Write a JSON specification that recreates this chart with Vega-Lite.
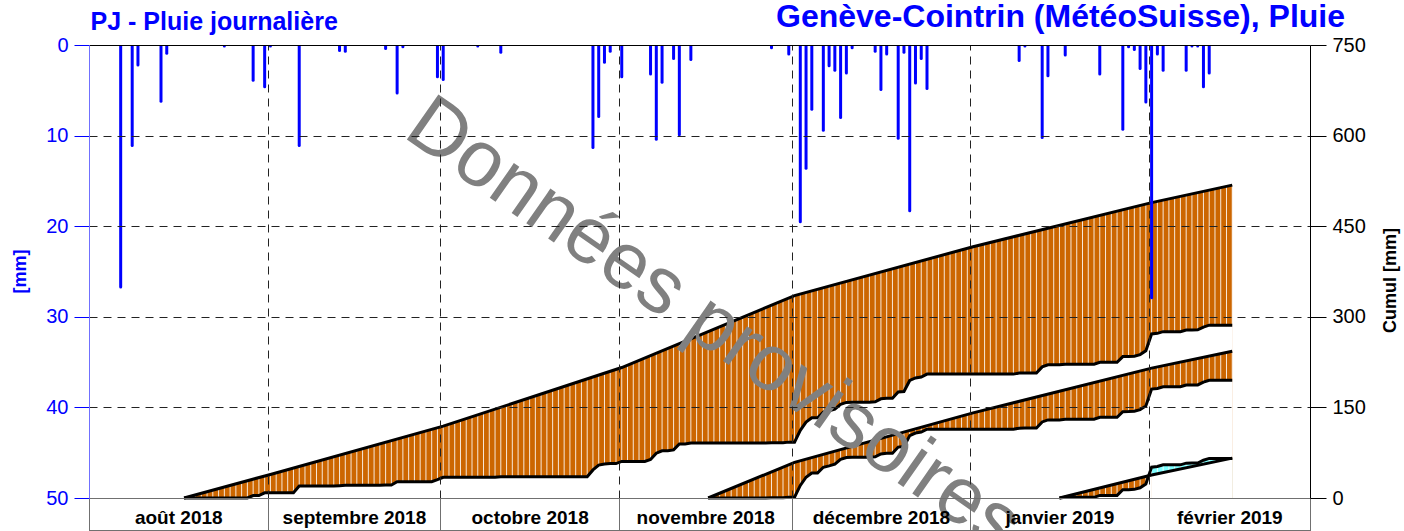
{
"$schema":"https://vega.github.io/schema/vega-lite/v6.json",
"width":1221,"height":453,
"autosize":"none",
"padding":{"left":89,"top":45,"right":94,"bottom":33},
"background":"white",
"config":{"view":{"stroke":null},"font":"Liberation Sans"},
"title":{"text":"Genève-Cointrin (MétéoSuisse), Pluie","anchor":"end","frame":"group","color":"#0000ff","fontSize":32,"fontWeight":"bold","font":"Liberation Sans","dx":35,"offset":-25},
"datasets":{
"daily":[
{"d":"2018-08-01"},{"d":"2018-08-02"},{"d":"2018-08-03"},{"d":"2018-08-04"},{"d":"2018-08-05"},
{"d":"2018-08-06","r":26.7},{"d":"2018-08-07"},{"d":"2018-08-08","r":11.1},{"d":"2018-08-09","r":2.2},
{"d":"2018-08-10"},{"d":"2018-08-11"},{"d":"2018-08-12"},{"d":"2018-08-13","r":6.2},{"d":"2018-08-14","r":0.9},
{"d":"2018-08-15"},{"d":"2018-08-16"},
{"d":"2018-08-17","a":0},{"d":"2018-08-18","a":0},{"d":"2018-08-19","a":0},{"d":"2018-08-20","a":0},{"d":"2018-08-21","a":0},{"d":"2018-08-22","a":0},{"d":"2018-08-23","a":0},
{"d":"2018-08-24","r":0.1,"a":0.1},{"d":"2018-08-25","a":0.1},{"d":"2018-08-26","a":0.1},{"d":"2018-08-27","a":0.1},{"d":"2018-08-28","a":0.1},
{"d":"2018-08-29","r":3.9,"a":4.0},{"d":"2018-08-30","a":4.0},{"d":"2018-08-31","r":4.6,"a":8.6},
{"d":"2018-09-01","r":0.1,"a":8.7},{"d":"2018-09-02","a":8.7},{"d":"2018-09-03","a":8.7},{"d":"2018-09-04","a":8.7},{"d":"2018-09-05","a":8.7},
{"d":"2018-09-06","r":11.1,"a":19.8},{"d":"2018-09-07","a":19.8},{"d":"2018-09-08","a":19.8},{"d":"2018-09-09","a":19.8},{"d":"2018-09-10","a":19.8},{"d":"2018-09-11","a":19.8},{"d":"2018-09-12","a":19.8},
{"d":"2018-09-13","r":0.6,"a":20.4},{"d":"2018-09-14","r":0.7,"a":21.1},{"d":"2018-09-15","a":21.1},{"d":"2018-09-16","a":21.1},{"d":"2018-09-17","a":21.1},{"d":"2018-09-18","a":21.1},{"d":"2018-09-19","a":21.1},{"d":"2018-09-20","a":21.1},
{"d":"2018-09-21","r":0.4,"a":21.5},{"d":"2018-09-22","a":21.5},{"d":"2018-09-23","r":5.3,"a":26.8},{"d":"2018-09-24","r":0.2,"a":27.0},
{"d":"2018-09-25","a":27.0},{"d":"2018-09-26","a":27.0},{"d":"2018-09-27","a":27.0},{"d":"2018-09-28","a":27.0},{"d":"2018-09-29","a":27.0},{"d":"2018-09-30","r":3.5,"a":30.5},
{"d":"2018-10-01","r":3.8,"a":34.3},{"d":"2018-10-02","a":34.3},{"d":"2018-10-03","a":34.3},{"d":"2018-10-04","a":34.3},{"d":"2018-10-05","a":34.3},{"d":"2018-10-06","a":34.3},
{"d":"2018-10-07","r":0.1,"a":34.4},{"d":"2018-10-08","a":34.4},{"d":"2018-10-09","a":34.4},{"d":"2018-10-10","a":34.4},{"d":"2018-10-11","r":0.8,"a":35.2},
{"d":"2018-10-12","a":35.2},{"d":"2018-10-13","a":35.2},{"d":"2018-10-14","a":35.2},{"d":"2018-10-15","a":35.2},{"d":"2018-10-16","a":35.2},{"d":"2018-10-17","a":35.2},{"d":"2018-10-18","a":35.2},
{"d":"2018-10-19","a":35.2},{"d":"2018-10-20","a":35.2},{"d":"2018-10-21","a":35.2},{"d":"2018-10-22","a":35.2},{"d":"2018-10-23","a":35.2},{"d":"2018-10-24","a":35.2},{"d":"2018-10-25","a":35.2},{"d":"2018-10-26","a":35.2},
{"d":"2018-10-27","r":11.3,"a":46.5},{"d":"2018-10-28","r":7.9,"a":54.4},{"d":"2018-10-29","r":1.9,"a":56.3},{"d":"2018-10-30","r":0.7,"a":57.0},{"d":"2018-10-31","a":57.0},
{"d":"2018-11-01","r":3.5,"a":60.5},{"d":"2018-11-02","a":60.5},{"d":"2018-11-03","a":60.5},{"d":"2018-11-04","a":60.5},{"d":"2018-11-05","a":60.5},
{"d":"2018-11-06","r":3.2,"a":63.7},{"d":"2018-11-07","r":10.4,"a":74.1},{"d":"2018-11-08","r":4.1,"a":78.2},{"d":"2018-11-09","a":78.2},{"d":"2018-11-10","r":1.5,"a":79.7},
{"d":"2018-11-11","r":9.9,"a":89.6},{"d":"2018-11-12","a":89.6},{"d":"2018-11-13","r":1.6,"a":91.2},{"d":"2018-11-14","a":91.2},{"d":"2018-11-15","a":91.2},
{"d":"2018-11-16","a":91.2,"b":0},{"d":"2018-11-17","a":91.2,"b":0},{"d":"2018-11-18","a":91.2,"b":0},{"d":"2018-11-19","a":91.2,"b":0},{"d":"2018-11-20","a":91.2,"b":0},
{"d":"2018-11-21","a":91.2,"b":0},{"d":"2018-11-22","a":91.2,"b":0},{"d":"2018-11-23","a":91.2,"b":0},{"d":"2018-11-24","a":91.2,"b":0},{"d":"2018-11-25","a":91.2,"b":0},{"d":"2018-11-26","a":91.2,"b":0},
{"d":"2018-11-27","r":0.3,"a":91.5,"b":0.3},{"d":"2018-11-28","a":91.5,"b":0.3},{"d":"2018-11-29","a":91.5,"b":0.3},{"d":"2018-11-30","r":1.0,"a":92.5,"b":1.3},
{"d":"2018-12-01","a":92.5,"b":1.3},{"d":"2018-12-02","r":19.5,"a":112.0,"b":20.8},{"d":"2018-12-03","r":13.6,"a":125.6,"b":34.4},{"d":"2018-12-04","r":7.1,"a":132.7,"b":41.5},
{"d":"2018-12-05","a":132.7,"b":41.5},{"d":"2018-12-06","r":9.4,"a":142.1,"b":50.9},{"d":"2018-12-07","r":2.3,"a":144.4,"b":53.2},{"d":"2018-12-08","r":2.8,"a":147.2,"b":56.0},
{"d":"2018-12-09","r":8.0,"a":155.2,"b":64.0},{"d":"2018-12-10","r":3.1,"a":158.3,"b":67.1},{"d":"2018-12-11","r":0.3,"a":158.6,"b":67.4},
{"d":"2018-12-12","a":158.6,"b":67.4},{"d":"2018-12-13","a":158.6,"b":67.4},{"d":"2018-12-14","a":158.6,"b":67.4},
{"d":"2018-12-15","r":0.7,"a":159.3,"b":68.1},{"d":"2018-12-16","r":4.9,"a":164.2,"b":73.0},{"d":"2018-12-17","r":1.0,"a":165.2,"b":74.0},{"d":"2018-12-18","a":165.2,"b":74.0},
{"d":"2018-12-19","r":10.3,"a":175.5,"b":84.3},{"d":"2018-12-20","r":0.8,"a":176.3,"b":85.1},{"d":"2018-12-21","r":18.3,"a":194.6,"b":103.4},{"d":"2018-12-22","r":4.2,"a":198.8,"b":107.6},
{"d":"2018-12-23","r":1.5,"a":200.3,"b":109.1},{"d":"2018-12-24","r":4.8,"a":205.1,"b":113.9},
{"d":"2018-12-25","a":205.1,"b":113.9},{"d":"2018-12-26","a":205.1,"b":113.9},{"d":"2018-12-27","a":205.1,"b":113.9},{"d":"2018-12-28","a":205.1,"b":113.9},{"d":"2018-12-29","a":205.1,"b":113.9},{"d":"2018-12-30","a":205.1,"b":113.9},{"d":"2018-12-31","a":205.1,"b":113.9},
{"d":"2019-01-01","a":205.1,"b":113.9},{"d":"2019-01-02","a":205.1,"b":113.9},{"d":"2019-01-03","a":205.1,"b":113.9},{"d":"2019-01-04","a":205.1,"b":113.9},{"d":"2019-01-05","a":205.1,"b":113.9},{"d":"2019-01-06","a":205.1,"b":113.9},{"d":"2019-01-07","a":205.1,"b":113.9},{"d":"2019-01-08","a":205.1,"b":113.9},
{"d":"2019-01-09","r":1.7,"a":206.8,"b":115.6},{"d":"2019-01-10","r":0.1,"a":206.9,"b":115.7},{"d":"2019-01-11","a":206.9,"b":115.7},{"d":"2019-01-12","a":206.9,"b":115.7},
{"d":"2019-01-13","r":10.2,"a":217.1,"b":125.9},{"d":"2019-01-14","r":3.4,"a":220.5,"b":129.3},{"d":"2019-01-15","a":220.5,"b":129.3},
{"d":"2019-01-16","a":220.5,"b":129.3,"c":0},{"d":"2019-01-17","r":1.1,"a":221.6,"b":130.4,"c":1.1},
{"d":"2019-01-18","a":221.6,"b":130.4,"c":1.1},{"d":"2019-01-19","a":221.6,"b":130.4,"c":1.1},{"d":"2019-01-20","a":221.6,"b":130.4,"c":1.1},{"d":"2019-01-21","a":221.6,"b":130.4,"c":1.1},{"d":"2019-01-22","a":221.6,"b":130.4,"c":1.1},
{"d":"2019-01-23","r":3.2,"a":224.8,"b":133.6,"c":4.3},{"d":"2019-01-24","a":224.8,"b":133.6,"c":4.3},{"d":"2019-01-25","a":224.8,"b":133.6,"c":4.3},{"d":"2019-01-26","a":224.8,"b":133.6,"c":4.3},
{"d":"2019-01-27","r":9.3,"a":234.1,"b":142.9,"c":13.6},{"d":"2019-01-28","r":0.2,"a":234.3,"b":143.1,"c":13.8},{"d":"2019-01-29","r":0.5,"a":234.8,"b":143.6,"c":14.3},
{"d":"2019-01-30","r":2.6,"a":237.4,"b":146.2,"c":16.9},{"d":"2019-01-31","r":6.3,"a":243.7,"b":152.5,"c":23.2},
{"d":"2019-02-01","r":27.9,"a":271.6,"b":180.4,"c":51.1},{"d":"2019-02-02","r":1.0,"a":272.6,"b":181.4,"c":52.1},{"d":"2019-02-03","r":2.8,"a":275.4,"b":184.2,"c":54.9},
{"d":"2019-02-04","a":275.4,"b":184.2,"c":54.9},{"d":"2019-02-05","a":275.4,"b":184.2,"c":54.9},{"d":"2019-02-06","a":275.4,"b":184.2,"c":54.9},
{"d":"2019-02-07","r":2.8,"a":278.2,"b":187.0,"c":57.7},{"d":"2019-02-08","r":0.1,"a":278.3,"b":187.1,"c":57.8},{"d":"2019-02-09","r":0.1,"a":278.4,"b":187.2,"c":57.9},
{"d":"2019-02-10","r":4.6,"a":283.0,"b":191.8,"c":62.5},{"d":"2019-02-11","r":3.1,"a":286.1,"b":194.9,"c":65.6},
{"d":"2019-02-12","a":286.1,"b":194.9,"c":65.6},{"d":"2019-02-13","a":286.1,"b":194.9,"c":65.6},{"d":"2019-02-14","a":286.1,"b":194.9,"c":65.6},{"d":"2019-02-15","a":286.1,"b":194.9,"c":65.6}
],
"norm":[
{"d":"2018-08-17","n1":0},{"d":"2018-09-01","n1":39},{"d":"2018-10-01","n1":119},{"d":"2018-11-01","n1":216},
{"d":"2018-11-16","n2":0},{"d":"2018-12-01","n1":335,"n2":59},{"d":"2019-01-01","n1":416,"n2":141},
{"d":"2019-01-16","n3":0},{"d":"2019-02-01","n1":489,"n2":215,"n3":38},{"d":"2019-02-15","n1":518,"n2":243,"n3":66}
]
},
"layer":[
{"layer":[
{"data":{"name":"norm"},"transform":[{"filter":{"field":"n1","valid":true}}],
 "mark":{"type":"area","color":"#cc6600","xOffset":2.88},
 "encoding":{
  "x":{"field":"d","type":"temporal","scale":{"type":"utc","domain":[{"year":2018,"month":8,"date":1,"utc":true},{"year":2019,"month":3,"date":1,"utc":true}]},
   "axis":{"orient":"bottom","zindex":1,"title":null,"values":[{"year":2018,"month":8,"date":16,"hours":12,"utc":true},{"year":2018,"month":9,"date":16,"utc":true},{"year":2018,"month":10,"date":16,"hours":12,"utc":true},{"year":2018,"month":11,"date":16,"utc":true},{"year":2018,"month":12,"date":16,"hours":12,"utc":true},{"year":2019,"month":1,"date":16,"hours":12,"utc":true},{"year":2019,"month":2,"date":15,"utc":true}],
    "labelExpr":"['janvier','février','mars','avril','mai','juin','juillet','août','septembre','octobre','novembre','décembre'][utcmonth(datum.value)] + ' ' + utcyear(datum.value)",
    "ticks":false,"tickSize":0,"grid":false,"offset":32,"domainColor":"#707070","domainWidth":1,"labelPadding":-13,"labelBaseline":"middle","labelFont":"Liberation Sans","labelFontSize":19,"labelFontWeight":"bold","labelColor":"#000000","labelFlush":false,"labelOverlap":false}},
  "y":{"field":"n1","type":"quantitative","stack":null,"scale":{"domain":[0,750],"nice":false},
   "axis":{"orient":"right","zindex":1,"values":[0,150,300,450,600,750],"grid":false,"domainColor":"#000000","tickColor":"#000000","tickSize":16,"labelPadding":6,"labelFont":"Liberation Sans","labelFontSize":20,"labelColor":"#000000","title":"Cumul [mm]","titleFont":"Liberation Sans","titleFontSize":18,"titleFontWeight":"bold","titleColor":"#000000","titleAngle":270,"titleX":80,"titleY":235,"titleBaseline":"middle","titleAlign":"center"}}}},
{"data":{"name":"daily"},"transform":[{"filter":{"field":"a","valid":true}}],
 "mark":{"type":"area","color":"#ffffff","xOffset":2.88},
 "encoding":{"x":{"field":"d","type":"temporal"},"y":{"field":"a","type":"quantitative","stack":null}}},
{"data":{"name":"norm"},"transform":[{"filter":{"field":"n2","valid":true}}],
 "mark":{"type":"area","color":"#cc6600","xOffset":2.88},
 "encoding":{"x":{"field":"d","type":"temporal"},"y":{"field":"n2","type":"quantitative","stack":null}}},
{"data":{"name":"daily"},"transform":[{"filter":{"field":"b","valid":true}}],
 "mark":{"type":"area","color":"#ffffff","xOffset":2.88},
 "encoding":{"x":{"field":"d","type":"temporal"},"y":{"field":"b","type":"quantitative","stack":null}}},
{"data":{"name":"daily"},"transform":[{"filter":{"field":"c","valid":true}},{"filter":{"field":"d","gte":{"year":2019,"month":1,"date":31,"utc":true}}}],
 "mark":{"type":"area","color":"#7fffff","xOffset":2.88},
 "encoding":{"x":{"field":"d","type":"temporal"},"y":{"field":"c","type":"quantitative","stack":null}}},
{"data":{"name":"norm"},"transform":[{"filter":{"field":"n3","valid":true}}],
 "mark":{"type":"area","color":"#cc6600","xOffset":2.88},
 "encoding":{"x":{"field":"d","type":"temporal"},"y":{"field":"n3","type":"quantitative","stack":null}}},
{"data":{"name":"daily"},"transform":[{"filter":{"field":"c","valid":true}},{"filter":{"field":"d","lte":{"year":2019,"month":2,"date":1,"utc":true}}}],
 "mark":{"type":"area","color":"#ffffff","xOffset":2.88},
 "encoding":{"x":{"field":"d","type":"temporal"},"y":{"field":"c","type":"quantitative","stack":null}}},
{"data":{"name":"norm"},"transform":[{"filter":{"field":"n3","valid":true}},{"filter":{"field":"d","gte":{"year":2019,"month":2,"date":1,"utc":true}}}],
 "mark":{"type":"area","color":"#ffffff","xOffset":2.88},
 "encoding":{"x":{"field":"d","type":"temporal"},"y":{"field":"n3","type":"quantitative","stack":null}}},
{"data":{"name":"daily"},
 "mark":{"type":"rule","color":"#ffffff","strokeWidth":1,"opacity":0.85,"xOffset":2.88},
 "encoding":{"x":{"field":"d","type":"temporal"}}},
{"data":{"name":"norm"},"transform":[{"filter":{"field":"n1","valid":true}}],
 "mark":{"type":"line","color":"#000000","strokeWidth":3,"xOffset":2.88},
 "encoding":{"x":{"field":"d","type":"temporal"},"y":{"field":"n1","type":"quantitative"}}},
{"data":{"name":"norm"},"transform":[{"filter":{"field":"n2","valid":true}}],
 "mark":{"type":"line","color":"#000000","strokeWidth":3,"xOffset":2.88},
 "encoding":{"x":{"field":"d","type":"temporal"},"y":{"field":"n2","type":"quantitative"}}},
{"data":{"name":"norm"},"transform":[{"filter":{"field":"n3","valid":true}}],
 "mark":{"type":"line","color":"#000000","strokeWidth":3,"xOffset":2.88},
 "encoding":{"x":{"field":"d","type":"temporal"},"y":{"field":"n3","type":"quantitative"}}},
{"data":{"name":"daily"},"transform":[{"filter":{"field":"a","valid":true}}],
 "mark":{"type":"line","color":"#000000","strokeWidth":3,"xOffset":2.88},
 "encoding":{"x":{"field":"d","type":"temporal"},"y":{"field":"a","type":"quantitative"}}},
{"data":{"name":"daily"},"transform":[{"filter":{"field":"b","valid":true}}],
 "mark":{"type":"line","color":"#000000","strokeWidth":3,"xOffset":2.88},
 "encoding":{"x":{"field":"d","type":"temporal"},"y":{"field":"b","type":"quantitative"}}},
{"data":{"name":"daily"},"transform":[{"filter":{"field":"c","valid":true}}],
 "mark":{"type":"line","color":"#000000","strokeWidth":3,"xOffset":2.88},
 "encoding":{"x":{"field":"d","type":"temporal"},"y":{"field":"c","type":"quantitative"}}}
]},
{"data":{"name":"daily"},"transform":[{"filter":{"field":"r","valid":true}}],
 "mark":{"type":"rule","color":"#0000ff","strokeWidth":3,"strokeCap":"round","xOffset":2.88,"clip":true},
 "encoding":{
  "x":{"field":"d","type":"temporal","scale":{"type":"utc","domain":[{"year":2018,"month":8,"date":1,"utc":true},{"year":2019,"month":3,"date":1,"utc":true}]},
   "axis":{"orient":"bottom","zindex":1,"title":null,"labels":false,"values":[{"year":2018,"month":8,"date":1,"utc":true},{"year":2018,"month":9,"date":1,"utc":true},{"year":2018,"month":10,"date":1,"utc":true},{"year":2018,"month":11,"date":1,"utc":true},{"year":2018,"month":12,"date":1,"utc":true},{"year":2019,"month":1,"date":1,"utc":true},{"year":2019,"month":2,"date":1,"utc":true},{"year":2019,"month":3,"date":1,"utc":true}],
    "ticks":true,"tickSize":33,"tickColor":"#707070","tickWidth":1,"domainColor":"#707070","domainWidth":1,
    "grid":true,"gridColor":"#222222","gridDash":[8,6],"gridWidth":1,
    "gridOpacity":{"condition":{"test":"datum.value <= utc(2018,7,1) || datum.value >= utc(2019,2,1)","value":0},"value":1}}},
  "y":{"field":"r","type":"quantitative","scale":{"domain":[0,50],"reverse":true,"nice":false},
   "axis":{"orient":"left","zindex":1,"values":[0,10,20,30,40,50],"grid":true,"gridColor":"#222222","gridDash":[8,6],"gridWidth":1,
    "gridOpacity":{"condition":{"test":"datum.value == 0 || datum.value == 50","value":0},"value":1},
    "domainColor":"#7070ff","tickColor":"#0000ff","tickSize":15,"labelPadding":6,"labelFont":"Liberation Sans","labelFontSize":20,"labelColor":"#0000ff",
    "title":"[mm]","titleFont":"Liberation Sans","titleFontSize":18,"titleFontWeight":"bold","titleColor":"#0000ff","titleAngle":270,"titleX":-69,"titleY":226,"titleBaseline":"middle","titleAlign":"center"}},
  "y2":{"datum":0}}},
{"data":{"values":[{"t":"Données provisoires"}]},
 "mark":{"type":"text","angle":35,"fontSize":80,"font":"Liberation Sans","color":"#808080","align":"center","baseline":"middle"},
 "encoding":{
  "x":{"datum":{"year":2018,"month":11,"date":17,"hours":12,"utc":true},"type":"temporal","scale":{"type":"utc","domain":[{"year":2018,"month":8,"date":1,"utc":true},{"year":2019,"month":3,"date":1,"utc":true}]},
   "axis":{"orient":"top","zindex":1,"labels":false,"ticks":false,"grid":false,"domainColor":"#000000","domainWidth":1,
    "title":"PJ - Pluie journalière","titleAnchor":"start","titleAlign":"left","titleX":1,"titleY":-16,"titleBaseline":"alphabetic","titleFont":"Liberation Sans","titleFontSize":25,"titleFontWeight":"bold","titleColor":"#0000ff"}},
  "y":{"datum":286,"type":"quantitative","scale":{"domain":[0,750],"nice":false},"axis":null},
  "text":{"field":"t"}}}
],
"resolve":{"scale":{"y":"independent"},"axis":{"x":"independent","y":"independent"}}
}
